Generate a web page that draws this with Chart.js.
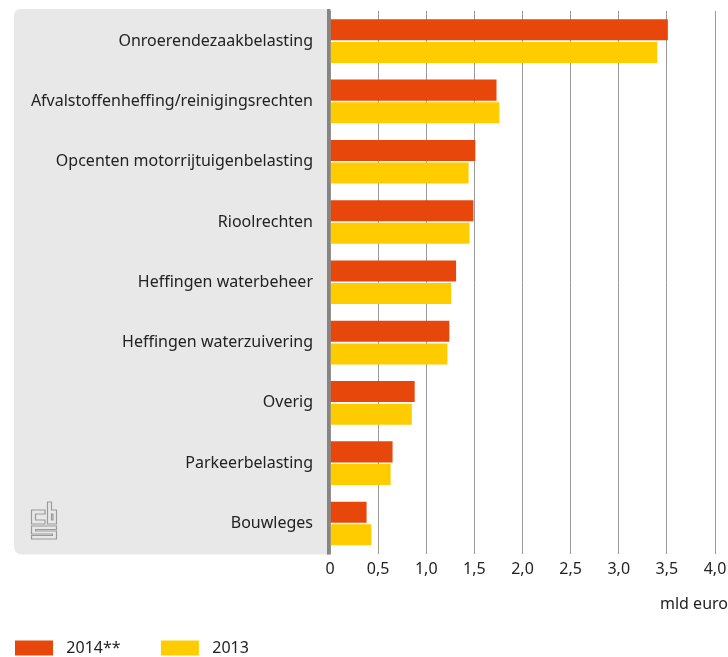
<!DOCTYPE html>
<html>
<head>
<meta charset="utf-8">
<script src="https://cdn.jsdelivr.net/npm/chart.js@4"></script>
<style>
  html, body { margin: 0; padding: 0; background: #fff; }
  #wrap { width: 728px; height: 657px; }
</style>
</head>
<body>
<div id="wrap"><canvas id="chart" width="728" height="657"></canvas></div>
<script>
// DATA

const categories = [
	'Onroerendezaakbelasting',
	'Afvalstoffenheffing/reinigingsrechten',
	'Opcenten motorrijtuigenbelasting',
	'Rioolrechten',
	'Heffingen waterbeheer',
	'Heffingen waterzuivering',
	'Overig',
	'Parkeerbelasting',
	'Bouwleges'
];
const values2014 = [3.51, 1.73, 1.51, 1.49, 1.31, 1.24, 0.88, 0.65, 0.38];
const values2013 = [3.40, 1.76, 1.44, 1.45, 1.26, 1.22, 0.85, 0.63, 0.43];
const seriesLabels = ['2014**', '2013'];
const xTicks = [0, 0.5, 1, 1.5, 2, 2.5, 3, 3.5, 4];
const xTitle = 'mld euro';

const RED = '#e8470b';
const YELLOW = '#ffcc00';
const FONT = '"Noto Sans", sans-serif';

// gray panel behind the labels + thick zero line + cbs logo
const panelPlugin = {
	id: 'panel',
	beforeDraw(chart) {
		const c = chart.ctx;
		const area = chart.chartArea;
		const x0 = 14, y0 = area.top - 2, x1 = area.left - 2, y1 = area.bottom + 1;
		c.save();
		c.fillStyle = '#e8e8e8';
		c.beginPath();
		c.roundRect(x0, y0, x1 - x0, y1 - y0, [6, 0, 0, 8]);
		c.fill();

		// logo
		c.strokeStyle = '#9a9a9a';
		c.lineWidth = 1.2;
		c.beginPath();
		// c
		c.moveTo(45, 510); c.lineTo(31.5, 510); c.lineTo(31.5, 524); c.lineTo(45, 524);
		c.lineTo(45, 520); c.lineTo(35.5, 520); c.lineTo(35.5, 514); c.lineTo(45, 514); c.closePath();
		// b
		c.moveTo(47.5, 502); c.lineTo(51.5, 502); c.lineTo(51.5, 510); c.lineTo(56.5, 510);
		c.lineTo(56.5, 524); c.lineTo(47.5, 524); c.closePath();
		c.rect(51.5, 514, 1.5, 6);
		// S
		c.moveTo(31.5, 526); c.lineTo(56.5, 526); c.lineTo(56.5, 529.5); c.lineTo(35.5, 529.5);
		c.lineTo(35.5, 531); c.lineTo(56.5, 531); c.lineTo(56.5, 539); c.lineTo(31.5, 539);
		c.lineTo(31.5, 535.5); c.lineTo(52.5, 535.5); c.lineTo(52.5, 534); c.lineTo(31.5, 534); c.closePath();
		c.stroke();
		c.restore();
	},
	afterDatasetsDraw(chart) {
		const c = chart.ctx;
		const area = chart.chartArea;
		c.save();
		c.fillStyle = '#858585';
		c.fillRect(area.left - 3, area.top - 2, 3.5, area.bottom - area.top + 3);
		c.restore();
	}
};

const ctx = document.getElementById('chart').getContext('2d');

new Chart(ctx, {
	type: 'bar',
	data: {
		labels: categories,
		datasets: [
			{
				label: seriesLabels[0],
				data: values2014,
				backgroundColor: RED,
				borderWidth: 0,
				categoryPercentage: 0.75,
				barPercentage: 0.93
			},
			{
				label: seriesLabels[1],
				data: values2013,
				backgroundColor: YELLOW,
				borderWidth: 0,
				categoryPercentage: 0.75,
				barPercentage: 0.93
			}
		]
	},
	plugins: [panelPlugin],
	options: {
		indexAxis: 'y',
		responsive: false,
		animation: false,
		layout: { padding: { top: 11, right: 0, left: 0, bottom: -9 } },
		scales: {
			x: {
				min: 0,
				max: 4,
				afterBuildTicks(scale) {
					scale.ticks = xTicks.map(v => ({ value: v }));
				},
				afterFit(scale) {
					scale.paddingRight = 13;
				},
				ticks: {
					font: { family: FONT, size: 16 },
					color: '#222',
					padding: 6,
					callback: v => v === 0 ? '0' : v.toFixed(1).replace('.', ',')
				},
				grid: { color: '#9a9a9a', lineWidth: 1, drawTicks: false },
				border: { display: false }
			},
			y: {
				afterFit(scale) {
					scale.width = 330;
					scale.paddingTop = 0;
					scale.paddingBottom = 0;
				},
				ticks: {
					font: { family: FONT, size: 16 },
					color: '#222',
					padding: 17
				},
				grid: { display: false, drawTicks: false },
				border: { display: false }
			}
		},
		plugins: {
			title: {
				display: true,
				text: xTitle,
				position: 'bottom',
				align: 'end',
				weight: 500,
				font: { family: FONT, size: 16, weight: 'normal' },
				color: '#222',
				padding: { top: 10, bottom: 11 }
			},
			legend: {
				position: 'bottom',
				align: 'start',
				labels: {
					font: { family: FONT, size: 16 },
					color: '#222',
					boxWidth: 38,
					boxHeight: 15,
					padding: 15,
					useBorderRadius: false,
					generateLabels(chart) {
						const items = Chart.defaults.plugins.legend.labels.generateLabels(chart);
						items.forEach((it, i) => {
							it.text = '\u2004' + it.text + (i === 0 ? '\u2003\u2004\u2005' : '');
							it.lineWidth = 0;
						});
						return items;
					}
				}
			},
			tooltip: { enabled: false }
		}
	}
});
</script>
</body>
</html>
